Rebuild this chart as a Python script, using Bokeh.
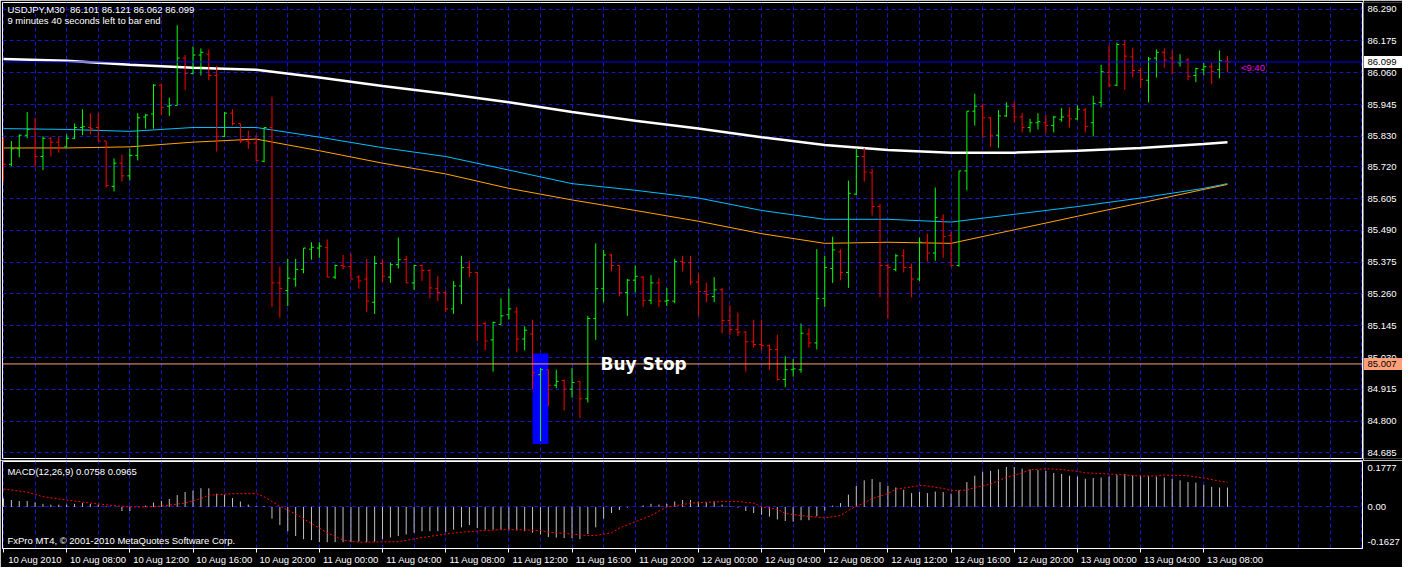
from bokeh.plotting import figure
from bokeh.models import Range1d, FixedTicker, Label, Grid, LinearAxis, Span
from bokeh.layouts import column, row
from bokeh.core.properties import value
from bokeh.embed import file_html
from bokeh.resources import INLINE

# ---------------- data (USDJPY M30, 10 Aug 2010 04:00 .. 13 Aug 2010 09:30) ----------------
opens = [85.816, 85.729, 85.785, 85.834, 85.855, 85.757, 85.823, 85.809, 85.792, 85.823,
         85.862, 85.862, 85.862, 85.813, 85.649, 85.733, 85.687, 85.761, 85.900, 85.911,
         86.015, 85.939, 85.942, 86.113, 86.057, 86.124, 86.127, 86.050, 85.830, 85.914,
         85.876, 85.813, 85.806, 85.740, 85.862, 85.300, 85.272, 85.314, 85.349, 85.422,
         85.426, 85.429, 85.321, 85.363, 85.359, 85.321, 85.314, 85.230, 85.370, 85.321,
         85.366, 85.384, 85.300, 85.363, 85.345, 85.279, 85.265, 85.206, 85.289, 85.356,
         85.338, 85.153, 85.094, 85.150, 85.185, 85.195, 85.097, 85.115, 84.968, 84.986,
         84.930, 84.947, 84.916, 84.944, 84.881, 85.171, 85.279, 85.401, 85.363, 85.265,
         85.310, 85.321, 85.237, 85.300, 85.234, 85.234, 85.377, 85.373, 85.303, 85.269,
         85.251, 85.275, 85.164, 85.132, 85.122, 85.087, 85.077, 85.073, 85.059, 84.951,
         84.986, 84.986, 85.115, 85.083, 85.244, 85.352, 85.412, 85.338, 85.621, 85.757,
         85.698, 85.576, 85.363, 85.349, 85.398, 85.356, 85.314, 85.447, 85.408, 85.530,
         85.471, 85.363, 85.705, 85.921, 85.939, 85.897, 85.834, 85.904, 85.939, 85.900,
         85.862, 85.879, 85.879, 85.869, 85.890, 85.904, 85.893, 85.925, 85.879, 85.953,
         86.061, 86.015, 86.162, 86.117, 86.068, 86.033, 86.113, 86.134, 86.113, 86.096,
         86.106, 86.050, 86.071, 86.082, 86.071, 86.101]
highs = [85.827, 85.813, 85.837, 85.918, 85.897, 85.830, 85.827, 85.830, 85.837, 85.876,
         85.928, 85.914, 85.914, 85.813, 85.750, 85.764, 85.785, 85.914, 85.911, 86.019,
         86.019, 85.970, 86.232, 86.124, 86.155, 86.148, 86.144, 86.085, 85.918, 85.928,
         85.876, 85.851, 85.834, 85.862, 85.973, 85.359, 85.387, 85.387, 85.426, 85.447,
         85.447, 85.457, 85.366, 85.401, 85.405, 85.328, 85.387, 85.398, 85.384, 85.373,
         85.464, 85.398, 85.366, 85.366, 85.349, 85.324, 85.272, 85.307, 85.398, 85.380,
         85.338, 85.160, 85.160, 85.244, 85.279, 85.213, 85.143, 85.167, 84.993, 84.986,
         84.986, 84.951, 84.993, 84.944, 85.181, 85.443, 85.419, 85.405, 85.363, 85.314,
         85.363, 85.324, 85.328, 85.317, 85.282, 85.387, 85.398, 85.398, 85.335, 85.300,
         85.321, 85.282, 85.220, 85.192, 85.125, 85.167, 85.167, 85.077, 85.112, 85.035,
         85.024, 85.153, 85.136, 85.422, 85.398, 85.467, 85.422, 85.670, 85.788, 85.788,
         85.712, 85.586, 85.370, 85.405, 85.422, 85.370, 85.464, 85.478, 85.645, 85.548,
         85.485, 85.705, 85.921, 85.984, 85.949, 85.900, 85.925, 85.953, 85.956, 85.914,
         85.893, 85.914, 85.907, 85.904, 85.932, 85.935, 85.942, 85.932, 85.977, 86.089,
         86.158, 86.169, 86.176, 86.151, 86.078, 86.117, 86.144, 86.148, 86.141, 86.127,
         86.113, 86.078, 86.096, 86.096, 86.141, 86.121]
lows = [85.666, 85.722, 85.754, 85.823, 85.719, 85.708, 85.757, 85.771, 85.790, 85.820,
        85.834, 85.837, 85.813, 85.645, 85.631, 85.666, 85.670, 85.743, 85.858, 85.858,
        85.907, 85.904, 85.942, 85.998, 86.054, 86.050, 86.033, 85.775, 85.827, 85.869,
        85.806, 85.785, 85.740, 85.736, 85.213, 85.174, 85.216, 85.286, 85.335, 85.384,
        85.391, 85.321, 85.314, 85.349, 85.314, 85.279, 85.195, 85.188, 85.303, 85.300,
        85.352, 85.300, 85.275, 85.307, 85.244, 85.234, 85.195, 85.188, 85.223, 85.321,
        85.090, 85.056, 84.979, 85.150, 85.167, 85.049, 85.056, 84.916, 84.728, 84.853,
        84.919, 84.839, 84.885, 84.811, 84.867, 85.094, 85.230, 85.342, 85.251, 85.181,
        85.265, 85.213, 85.223, 85.213, 85.216, 85.227, 85.342, 85.293, 85.181, 85.230,
        85.230, 85.118, 85.112, 85.108, 84.979, 85.066, 85.056, 84.986, 84.947, 84.923,
        84.961, 84.975, 85.066, 85.059, 85.213, 85.300, 85.310, 85.282, 85.618, 85.666,
        85.544, 85.248, 85.171, 85.342, 85.338, 85.248, 85.307, 85.377, 85.380, 85.391,
        85.359, 85.359, 85.635, 85.869, 85.823, 85.792, 85.788, 85.900, 85.879, 85.844,
        85.844, 85.855, 85.841, 85.844, 85.883, 85.862, 85.890, 85.844, 85.830, 85.935,
        86.008, 86.012, 85.998, 86.043, 86.005, 85.953, 86.043, 86.078, 86.054, 86.082,
        86.033, 86.026, 86.050, 86.019, 86.040, 86.062]
closes = [85.729, 85.785, 85.834, 85.855, 85.757, 85.823, 85.809, 85.788, 85.823, 85.862,
          85.865, 85.858, 85.813, 85.652, 85.733, 85.687, 85.761, 85.897, 85.907, 86.015,
          85.935, 85.942, 86.113, 86.057, 86.124, 86.134, 86.050, 85.830, 85.914, 85.876,
          85.813, 85.806, 85.743, 85.862, 85.300, 85.279, 85.317, 85.349, 85.426, 85.429,
          85.433, 85.321, 85.363, 85.359, 85.314, 85.307, 85.234, 85.370, 85.324, 85.366,
          85.384, 85.300, 85.363, 85.345, 85.282, 85.265, 85.206, 85.289, 85.356, 85.338,
          85.146, 85.090, 85.157, 85.181, 85.206, 85.097, 85.129, 84.975, 84.986, 84.930,
          84.944, 84.916, 84.940, 84.881, 85.171, 85.279, 85.401, 85.363, 85.265, 85.310,
          85.324, 85.237, 85.300, 85.234, 85.237, 85.377, 85.373, 85.303, 85.269, 85.258,
          85.275, 85.164, 85.132, 85.122, 85.087, 85.077, 85.073, 85.059, 84.951, 84.986,
          84.989, 85.118, 85.083, 85.244, 85.356, 85.419, 85.338, 85.624, 85.757, 85.701,
          85.576, 85.363, 85.356, 85.398, 85.356, 85.314, 85.447, 85.408, 85.537, 85.467,
          85.363, 85.705, 85.921, 85.939, 85.897, 85.834, 85.904, 85.939, 85.900, 85.862,
          85.879, 85.883, 85.869, 85.900, 85.900, 85.893, 85.928, 85.865, 85.949, 86.064,
          86.015, 86.162, 86.120, 86.068, 86.036, 86.110, 86.134, 86.106, 86.096, 86.099,
          86.047, 86.075, 86.082, 86.064, 86.103, 86.099]

# moving averages (read at every 8th bar)
ma_bars = [0, 8, 16, 24, 32, 40, 48, 56, 64, 72, 80, 88, 96, 104, 112, 120, 128, 136, 144, 152, 155]
ma_slow = [86.110, 86.103, 86.089, 86.078, 86.071, 86.043, 86.012, 85.984, 85.953, 85.918, 85.886,
           85.858, 85.827, 85.799, 85.781, 85.771, 85.771, 85.778, 85.788, 85.802, 85.809]
ma_mid = [85.858, 85.855, 85.848, 85.862, 85.862, 85.827, 85.789, 85.757, 85.708, 85.659, 85.635,
          85.607, 85.562, 85.530, 85.530, 85.520, 85.548, 85.576, 85.607, 85.642, 85.659]
ma_fast = [85.788, 85.788, 85.792, 85.809, 85.820, 85.778, 85.733, 85.694, 85.642, 85.600, 85.562,
           85.523, 85.478, 85.443, 85.447, 85.443, 85.492, 85.541, 85.589, 85.638, 85.656]

# MACD(12,26,9)
macd_hist = [0.033, 0.027, 0.023, 0.023, 0.018, 0.012, 0.009, 0.009, 0.009, 0.012,
             0.015, 0.012, 0.009, 0.003, -0.001, -0.016, -0.016, 0.0, 0.005, 0.017,
             0.024, 0.031, 0.046, 0.058, 0.064, 0.073, 0.073, 0.052, 0.048, 0.035,
             0.021, 0.009, 0.003, 0.003, -0.046, -0.071, -0.095, -0.114, -0.126, -0.130,
             -0.138, -0.138, -0.138, -0.138, -0.138, -0.136, -0.138, -0.136, -0.126, -0.120,
             -0.114, -0.108, -0.101, -0.095, -0.095, -0.095, -0.098, -0.089, -0.080, -0.071,
             -0.083, -0.089, -0.089, -0.089, -0.092, -0.092, -0.095, -0.101, -0.108, -0.118,
             -0.120, -0.122, -0.122, -0.126, -0.106, -0.080, -0.046, -0.024, -0.012, -0.003,
             0.0, 0.006, 0.012, 0.009, 0.012, 0.021, 0.027, 0.027, 0.021, 0.018,
             0.021, 0.009, 0.003, -0.003, -0.016, -0.024, -0.031, -0.038, -0.049, -0.055,
             -0.058, -0.052, -0.052, -0.037, -0.014, 0.005, 0.015, 0.048, 0.082, 0.104,
             0.109, 0.097, 0.082, 0.076, 0.067, 0.054, 0.058, 0.054, 0.060, 0.058,
             0.052, 0.066, 0.097, 0.122, 0.138, 0.141, 0.147, 0.156, 0.156, 0.150,
             0.147, 0.144, 0.141, 0.133, 0.129, 0.122, 0.119, 0.110, 0.113, 0.115,
             0.119, 0.125, 0.129, 0.125, 0.122, 0.121, 0.119, 0.115, 0.110, 0.104,
             0.097, 0.095, 0.086, 0.078, 0.076, 0.0758]
signal_bars = [0, 3, 5, 8, 11, 14, 16, 18, 20, 23, 25, 26, 29, 32, 33, 35, 37, 39, 41, 43, 45, 50,
               53, 56, 58, 61, 63, 65, 68, 69, 72, 74, 75, 77, 78, 80, 82, 83, 84, 86, 87, 89, 91,
               93, 95, 96, 98, 99, 101, 103, 104, 106, 107, 108, 109, 110, 112, 113, 115, 116, 117,
               119, 120, 122, 123, 125, 126, 127, 129, 130, 131, 132, 134, 136, 137, 140, 142, 144,
               146, 147, 150, 152, 154, 155]
signal_vals = [0.070, 0.058, 0.040, 0.027, 0.015, 0.005, 0.0, 0.0, 0.003, 0.015, 0.033, 0.046, 0.052,
               0.052, 0.040, 0.003, -0.028, -0.065, -0.101, -0.130, -0.138, -0.136,
               -0.120, -0.106, -0.099, -0.092, -0.089, -0.089, -0.092, -0.099, -0.106, -0.112, -0.112,
               -0.101, -0.083, -0.058, -0.034, -0.016, -0.001, 0.009, 0.015, 0.018, 0.021,
               0.021, 0.015, 0.0, -0.009, -0.026, -0.034, -0.040, -0.043, -0.034, -0.014, 0.003,
               0.015, 0.033, 0.052, 0.070, 0.078, 0.084, 0.082,
               0.072, 0.064, 0.066, 0.076, 0.089, 0.103, 0.116, 0.133, 0.146, 0.146, 0.150, 0.146,
               0.139, 0.133, 0.129, 0.125, 0.121,
               0.121, 0.125, 0.122, 0.113, 0.101, 0.0965]

# pending order / rectangle object
buy_stop_price = 85.007
rect_bars = (67, 69)
rect_prices = (84.717, 85.045)
time_left = "9:40"

price_ticks = [86.290, 86.175, 86.060, 85.945, 85.830, 85.720, 85.605, 85.490,
               85.375, 85.260, 85.145, 85.030, 84.915, 84.800, 84.685]
time_tick_bars = [0, 8, 16, 24, 32, 40, 48, 56, 64, 72, 80, 88, 96, 104, 112, 120, 128, 136, 144, 152]
time_tick_labels = ["10 Aug 2010", "10 Aug 08:00", "10 Aug 12:00", "10 Aug 16:00", "10 Aug 20:00",
                    "11 Aug 00:00", "11 Aug 04:00", "11 Aug 08:00", "11 Aug 12:00", "11 Aug 16:00",
                    "11 Aug 20:00", "12 Aug 00:00", "12 Aug 04:00", "12 Aug 08:00", "12 Aug 12:00",
                    "12 Aug 16:00", "12 Aug 20:00", "13 Aug 00:00", "13 Aug 04:00", "13 Aug 08:00"]
grid_bars = list(range(0, 173, 4))

# ---------------- styling ----------------
FONT = "Liberation Sans"
FS = "9.5px"
GRID = "#1414C8"
UP = "#00FF00"
DOWN = "#FF0000"
SALMON = "#FFA07A"
BID = "#0000FF"

n = len(opens)
idx = list(range(n))
colors = [UP if c > o else DOWN for o, c in zip(opens, closes)]
tick = 0.3

x_range = Range1d(-0.125, 172.1)
y_range = Range1d(84.665, 86.314)

# ---------------- main price panel ----------------
p = figure(width=1363, height=460, x_range=x_range, y_range=y_range,
           output_backend="svg", toolbar_location=None,
           x_axis_location=None, y_axis_location=None,
           background_fill_color="black", border_fill_color="black",
           outline_line_color="white", outline_line_width=1,
           min_border_left=2, min_border_right=1, min_border_top=2, min_border_bottom=2)
p.grid.visible = False
p.add_layout(Grid(dimension=1, ticker=FixedTicker(ticks=price_ticks), grid_line_color=GRID,
                  grid_line_dash="4 3", grid_line_width=1))
p.add_layout(Grid(dimension=0, ticker=FixedTicker(ticks=grid_bars), grid_line_color=GRID,
                  grid_line_dash="4 3", grid_line_width=1))

# rectangle object (behind bars)
p.quad(left=[rect_bars[0]], right=[rect_bars[1]], bottom=[rect_prices[0]], top=[rect_prices[1]],
       fill_color="#0000FF", line_color=None)

# moving averages
p.line(ma_bars, ma_slow, line_color="white", line_width=2.5)
p.line(ma_bars, ma_mid, line_color="#00BFFF", line_width=1)
p.line(ma_bars, ma_fast, line_color="#FFA500", line_width=1)

# bid line and buy stop line
p.add_layout(Span(location=closes[-1], dimension="width", line_color=BID, line_width=1))
p.add_layout(Span(location=buy_stop_price, dimension="width", line_color=SALMON, line_width=1))

# OHLC bars
p.segment(x0=idx, y0=lows, x1=idx, y1=highs, line_color=colors, line_width=1)
p.segment(x0=[i - tick for i in idx], y0=opens, x1=idx, y1=opens, line_color=colors, line_width=1)
p.segment(x0=idx, y0=closes, x1=[i + tick for i in idx], y1=closes, line_color=colors, line_width=1)

# texts
header = "USDJPY,M30\u00a0\u00a0%.3f %.3f %.3f %.3f" % (opens[-1], highs[-1], lows[-1], closes[-1])
p.add_layout(Label(x=0.5, y=86.287, text=header,
                   text_color="white", text_font=FONT, text_font_size=FS, text_baseline="middle"))
p.add_layout(Label(x=0.5, y=86.249, text="9 minutes 40 seconds left to bar end",
                   text_color="white", text_font=FONT, text_font_size=FS, text_baseline="middle"))
p.add_layout(Label(x=156.7, y=86.078, text="<" + time_left, text_color="#E600E6",
                   text_font=FONT, text_font_size=FS, text_baseline="middle"))
p.add_layout(Label(x=75.6, y=buy_stop_price, text="Buy Stop", text_color="white",
                   text_font="DejaVu Sans", text_font_style="bold", text_font_size="17px",
                   text_baseline="middle"))

# ---------------- price scale strip (right) ----------------
s = figure(width=39, height=460, x_range=Range1d(0, 39), y_range=y_range,
           output_backend="svg", toolbar_location=None,
           x_axis_location=None, y_axis_location=None,
           background_fill_color="black", border_fill_color="black", outline_line_color=None,
           min_border_left=0, min_border_right=0, min_border_top=2, min_border_bottom=2)
s.grid.visible = False
s.text(x=[4] * len(price_ticks), y=price_ticks, text=["%.3f" % t for t in price_ticks],
       text_color="white", text_font=value(FONT), text_font_size=value(FS),
       text_baseline="middle", text_align="left")
box_prices = [closes[-1], buy_stop_price]
s.rect(x=[19.5, 19.5], y=box_prices, width=38, height=12, width_units="screen", height_units="screen",
       fill_color=["white", SALMON], line_color=None)
s.text(x=[4, 4], y=box_prices, text=["%.3f" % v for v in box_prices],
       text_color="black", text_font=value(FONT), text_font_size=value(FS),
       text_baseline="middle", text_align="left")

# ---------------- MACD panel ----------------
q = figure(width=1402, height=107, x_range=x_range, y_range=Range1d(-0.1627, 0.1777),
           output_backend="svg", toolbar_location=None,
           x_axis_location="below", y_axis_location="right",
           background_fill_color="black", border_fill_color="black",
           outline_line_color="white", outline_line_width=1,
           min_border_left=2, min_border_right=40, min_border_top=1, min_border_bottom=17)
q.grid.visible = False
q.add_layout(Grid(dimension=1, ticker=FixedTicker(ticks=[0.0]), grid_line_color=GRID,
                  grid_line_dash="4 3", grid_line_width=1))
q.add_layout(Grid(dimension=0, ticker=FixedTicker(ticks=grid_bars), grid_line_color=GRID,
                  grid_line_dash="4 3", grid_line_width=1))

qa = q.yaxis[0]
macd_top_tick, macd_bottom_tick = 0.151, -0.136
qa.ticker = FixedTicker(ticks=[macd_top_tick, 0.0, macd_bottom_tick])
qa.major_label_overrides = {macd_top_tick: "0.1777", 0.0: "0.00", macd_bottom_tick: "-0.1627"}
qa.axis_line_color = None
qa.major_tick_line_color = None
qa.minor_tick_line_color = None
qa.major_tick_out = 0
qa.major_label_standoff = 5
qa.major_label_text_color = "white"
qa.major_label_text_font = FONT
qa.major_label_text_font_size = FS

xa = q.xaxis[0]
xa.ticker = FixedTicker(ticks=time_tick_bars)
xa.major_label_overrides = {t: "" for t in time_tick_bars}
xa.major_label_text_font_size = "0px"
xa.major_label_standoff = 0
xa.axis_line_color = "white"
xa.major_tick_line_color = "white"
xa.minor_tick_line_color = None
xa.major_tick_in = 0
xa.major_tick_out = 4

label_shift = 4
xl = LinearAxis(ticker=FixedTicker(ticks=[t + label_shift for t in time_tick_bars]),
                major_label_overrides={t + label_shift: lab for t, lab in zip(time_tick_bars, time_tick_labels)},
                axis_line_color=None, major_tick_line_color=None, minor_tick_line_color=None,
                major_tick_in=0, major_tick_out=0, major_label_standoff=1,
                major_label_text_color="white", major_label_text_font=FONT,
                major_label_text_font_size=FS)
q.add_layout(xl, "below")

q.segment(x0=idx, y0=[0.0] * n, x1=idx, y1=macd_hist, line_color="#C0C0C0", line_width=1)
q.line(signal_bars, signal_vals, line_color="#FF0000", line_width=1, line_dash="2 2")

q.add_layout(Label(x=0.5, y=0.138, text="MACD(12,26,9) %.4f %.4f" % (macd_hist[-1], signal_vals[-1]),
                   text_color="white", text_font=FONT, text_font_size=FS, text_baseline="middle"))
q.add_layout(Label(x=0.5, y=-0.133, text="FxPro MT4, © 2001-2010 MetaQuotes Software Corp.",
                   text_color="white", text_font=FONT, text_font_size=FS, text_baseline="middle"))

layout = column(row(p, s, spacing=0), q, spacing=0)
open("out.html", "w").write(file_html(layout, INLINE))
